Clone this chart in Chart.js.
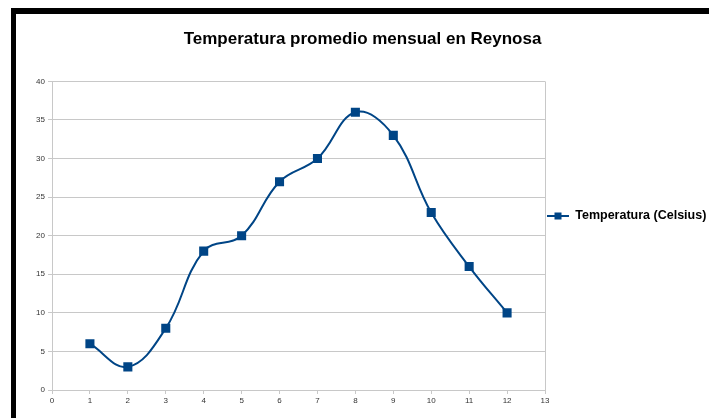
<!DOCTYPE html>
<html>
<head>
<meta charset="utf-8">
<script src="https://cdn.jsdelivr.net/npm/chart.js@4.4.1/dist/chart.umd.min.js"></script>
<style>
  html, body { margin: 0; padding: 0; background: #fff; }
  #wrap { position: relative; width: 709px; height: 418px; }
  #frame { position: absolute; left: 11px; top: 8px; right: 0; bottom: 0;
           border-left: 5px solid #000; border-top: 6px solid #000; pointer-events: none; }
</style>
</head>
<body>
<div id="wrap">
  <canvas id="grafica" width="709" height="418"></canvas>
  <div id="frame"></div>
</div>
<script>
  // datos
  const meses = [1, 2, 3, 4, 5, 6, 7, 8, 9, 10, 11, 12];
  const temperaturas = [6, 3, 8, 18, 20, 27, 30, 36, 33, 23, 16, 10];
  const serie = 'Temperatura (Celsius)';
  const titulo = 'Temperatura promedio mensual en Reynosa';

  const azul = '#004586';

  Chart.defaults.font.family = '"Liberation Sans", Arial, sans-serif';
  Chart.defaults.color = '#333';

  // marco del area de trazado (lado derecho)
  const marco = {
    id: 'marco',
    beforeDatasetsDraw(chart) {
      const a = chart.chartArea;
      const ctx = chart.ctx;
      ctx.save();
      ctx.strokeStyle = '#c8c8c8';
      ctx.lineWidth = 1;
      ctx.beginPath();
      ctx.moveTo(a.right + 0.5, a.top);
      ctx.lineTo(a.right + 0.5, a.bottom);
      ctx.stroke();
      ctx.restore();
    }
  };

  // cuadro encima de la linea de la leyenda
  const marcaLeyenda = {
    id: 'marcaLeyenda',
    afterDraw(chart) {
      const boxes = chart.legend.legendHitBoxes;
      if (!boxes || !boxes.length) return;
      const b = boxes[0];
      const ctx = chart.ctx;
      ctx.save();
      ctx.fillStyle = azul;
      const cx = b.left + 11, cy = b.top + b.height / 2;
      ctx.fillRect(cx - 3.5, cy - 3.5, 7, 7);
      ctx.restore();
    }
  };

  new Chart(document.getElementById('grafica'), {
    type: 'line',
    data: {
      labels: meses,
      datasets: [{
        label: serie,
        data: meses.map((m, i) => ({ x: m, y: temperaturas[i] })),
        borderColor: azul,
        backgroundColor: azul,
        borderWidth: 2,
        tension: 0.4,
        pointStyle: 'rect',
        pointRadius: 5,
        pointHoverRadius: 5
      }]
    },
    options: {
      responsive: false,
      animation: false,
      layout: { padding: { left: 16, top: 20, right: 0, bottom: 6 } },
      plugins: {
        title: {
          display: true,
          text: titulo,
          color: '#000',
          font: { size: 17, weight: 'bold' },
          padding: { top: 9, bottom: 32 }
        },
        legend: {
          position: 'right',
          maxWidth: 164,
          labels: {
            color: '#000',
            font: { size: 12.5, weight: 'bold' },
            boxWidth: 22,
            boxHeight: 0,
            padding: 2
          }
        },
        tooltip: { enabled: false }
      },
      scales: {
        x: {
          type: 'linear',
          min: 0,
          max: 13,
          ticks: { stepSize: 1, font: { size: 8 }, padding: 2 },
          grid: { drawOnChartArea: false, tickLength: 4, color: '#c8c8c8' },
          border: { color: '#c8c8c8' },
          afterFit(s) { s.height = 22; }
        },
        y: {
          min: 0,
          max: 40,
          ticks: { stepSize: 5, font: { size: 8 }, padding: 3 },
          grid: { tickLength: 4, color: '#c8c8c8' },
          border: { color: '#c8c8c8' },
          afterFit(s) { s.width = 36; }
        }
      }
    },
    plugins: [marco, marcaLeyenda]
  });
</script>
</body>
</html>
